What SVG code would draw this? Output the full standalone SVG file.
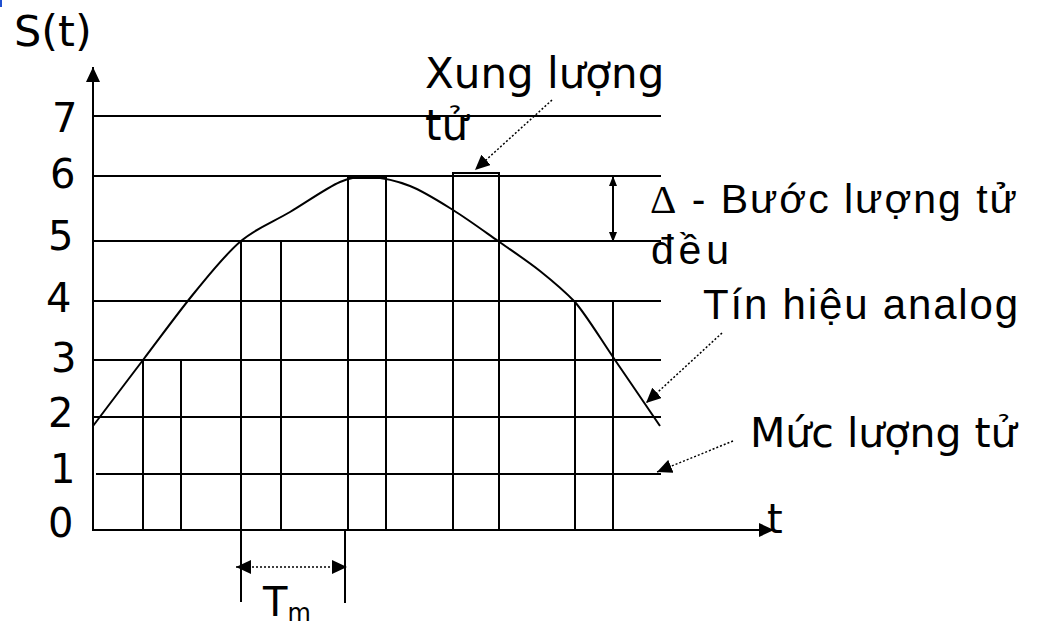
<svg xmlns="http://www.w3.org/2000/svg" width="1049" height="629" viewBox="0 0 1049 629">
<defs>
<style>
.ln{stroke:#000;stroke-width:2;fill:none}
.dot{stroke:#000;stroke-width:1.5;stroke-dasharray:2 2;fill:none}
.v{font-family:"DejaVu Sans",Verdana,sans-serif;fill:#000}
.a{font-family:"Liberation Sans",Arial,sans-serif;fill:#000}
.d{font-family:"DejaVu Sans",Verdana,sans-serif;fill:#000;font-size:40px}
</style>
<marker id="big" viewBox="0 0 15 14" refX="15" refY="7" markerWidth="15" markerHeight="14" markerUnits="userSpaceOnUse" orient="auto-start-reverse"><path d="M0,0 L15,7 L0,14 Z" fill="#000"/></marker>
<marker id="sm" viewBox="0 0 10 8" refX="10" refY="4" markerWidth="10" markerHeight="8" markerUnits="userSpaceOnUse" orient="auto-start-reverse"><path d="M0,0 L10,4 L0,8 Z" fill="#000"/></marker>
</defs>
<rect width="1049" height="629" fill="#fff"/>
<rect x="0" y="0" width="2" height="7" fill="#2050d0"/>

<g id="axes">
<line class="ln" x1="93" y1="531" x2="93" y2="67" marker-end="url(#big)"/>
<line class="ln" x1="92" y1="530" x2="774" y2="530" marker-end="url(#big)"/>
</g>

<g id="levels">
<line class="ln" x1="93" y1="116" x2="661" y2="116"/>
<line class="ln" x1="93" y1="176" x2="661" y2="176"/>
<line class="ln" x1="93" y1="241" x2="661" y2="241"/>
<line class="ln" x1="93" y1="301" x2="661" y2="301"/>
<line class="ln" x1="93" y1="360" x2="661" y2="360"/>
<line class="ln" x1="93" y1="417" x2="661" y2="417"/>
<line class="ln" x1="96" y1="474" x2="661" y2="474"/>
</g>

<g id="pulses">
<path class="ln" d="M143,530 V360 H181 V530"/>
<path class="ln" d="M241,602 V241 H281 V530"/>
<path class="ln" d="M348,530 V178 H386 V530"/>
<line class="ln" x1="345" y1="530" x2="345" y2="603"/>
<path class="ln" d="M453,530 V173 H499 V530"/>
<path class="ln" d="M575,530 V301 H613 V530"/>
</g>

<g id="signal">
<path class="ln" d="M93,426 C101.3,415 126,382.3 143,360 C160,337.7 178.7,311.8 195,292 C211.3,272.2 225.2,254.3 241,241 C256.8,227.7 273.5,221.8 290,212 C306.5,202.2 326.7,187.8 340,182 C353.3,176.2 358.3,177.7 370,177 C381.7,177.7 396.2,180.5 410,186 C423.8,191.5 438.3,200.8 453,210 C467.7,219.2 483.5,230.8 498,241 C512.5,251.2 527.2,260.8 540,271 C552.8,281.2 562.5,289 575,302 C587.5,316.8 600.8,339.3 615,360 C629.2,380.7 652.5,415 660,426"/>
</g>

<g id="connectors">
<line class="dot" x1="552" y1="100" x2="475" y2="170" marker-end="url(#big)"/>
<line class="dot" x1="722" y1="333" x2="646" y2="403" marker-end="url(#big)"/>
<line class="dot" x1="733" y1="441" x2="657" y2="472" marker-end="url(#big)"/>
<line class="ln" x1="613" y1="176" x2="613" y2="242" marker-start="url(#sm)" marker-end="url(#sm)" stroke-width="1.5"/>
<line class="dot" x1="236" y1="567" x2="347" y2="567" marker-start="url(#big)" marker-end="url(#big)"/>
</g>

<g id="labels">
<text class="v" x="14" y="46" font-size="43">S(t)</text>
<text class="d" x="52" y="132">7</text>
<text class="d" x="50" y="188">6</text>
<text class="d" x="48" y="250">5</text>
<text class="d" x="46" y="312">4</text>
<text class="d" x="51" y="372">3</text>
<text class="d" x="48" y="427">2</text>
<text class="d" x="50" y="483">1</text>
<text class="d" x="48" y="537">0</text>
<text class="v" x="767" y="533" font-size="40">t</text>
<text class="v" x="263" y="616" font-size="40">T<tspan font-size="24" dy="5">m</tspan></text>
<text class="v" x="425" y="88" font-size="42">Xung lượng</text>
<text class="v" x="425" y="140" font-size="42">tử</text>
<text class="a" x="650" y="213" font-size="41" textLength="367" lengthAdjust="spacing"><tspan font-family="Liberation Serif,serif">Δ</tspan> - Bước lượng tử</text>
<text class="a" x="651" y="264" font-size="41" textLength="78" lengthAdjust="spacing">đều</text>
<text class="a" x="703" y="319" font-size="42" textLength="315" lengthAdjust="spacing">Tín hiệu analog</text>
<text class="v" x="750" y="447" font-size="41">Mức lượng tử</text>
</g>
</svg>
